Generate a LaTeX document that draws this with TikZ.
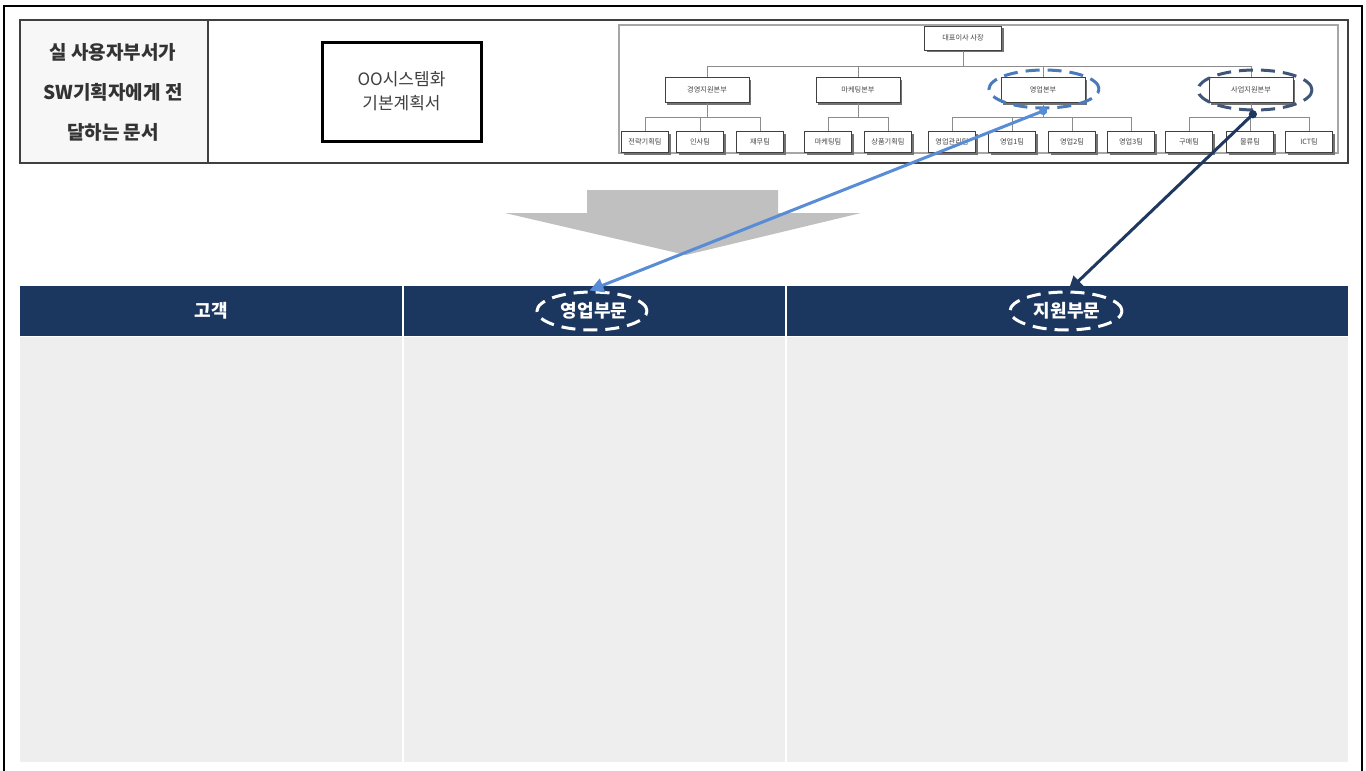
\documentclass[tikz,border=0pt]{standalone}
\usepackage{fontspec}
\setmainfont{Noto Sans CJK KR}
\usetikzlibrary{arrows.meta,shapes.geometric}

\definecolor{navy}{RGB}{27,54,95}
\definecolor{bodygrey}{RGB}{238,238,238}
\definecolor{cellgrey}{RGB}{247,247,247}
\definecolor{framegrey}{RGB}{64,64,64}
\definecolor{bigarrow}{RGB}{192,192,192}
\definecolor{lightblue}{RGB}{88,140,214}
\definecolor{midblue}{RGB}{74,122,188}
\definecolor{darkblue}{RGB}{30,56,96}
\definecolor{orgtext}{RGB}{70,70,70}

\tikzset{
  orgbox/.style={draw=black!75, line width=0.5pt, fill=white, font=\fontsize{3.6}{4}\selectfont, text=orgtext,
    preaction={fill=black!55, transform canvas={xshift=1.1pt, yshift=-1.1pt}}, inner sep=0pt},
  lvltop/.style={orgbox, minimum width=38.5pt, minimum height=12pt},
  lvltwo/.style={orgbox, minimum width=42pt, minimum height=12.5pt},
  lvlthree/.style={orgbox, minimum width=23.5pt, minimum height=10.5pt},
  orgline/.style={draw=black!45, line width=0.4pt},
  ring/.style={ellipse, dashed, line width=1.5pt, dash pattern=on 7pt off 4pt, inner sep=0pt},
  headtext/.style={text=white, font=\fontsize{9}{11}\selectfont\bfseries},
  linkarrow/.style={line width=1.5pt, {Circle[length=4pt]}-{Triangle[length=7pt,width=7pt]}},
}

\begin{document}
\begin{tikzpicture}[x=0.5pt, y=-0.5pt]
\useasboundingbox (0,0) rectangle (1366,771);
\fill[white] (0,0) rectangle (1366,771);

% outer frame
\draw[line width=1pt] (4,6) rectangle (1362,800);

% top row: document description
\fill[cellgrey] (20,20) rectangle (208,163);
\draw[framegrey, line width=0.7pt] (20,20) rectangle (1348,163);
\draw[framegrey, line width=0.7pt] (208,20) -- (208,163);
\node[align=center, font=\fontsize{9.5}{20}\selectfont\bfseries, text=black!80] (desc) at (113,92)
  {실 사용자부서가\\SW기획자에게 전\\달하는 문서};
\node[draw, line width=1.5pt, minimum width=79.5pt, minimum height=49.5pt, align=center,
  font=\fontsize{8.5}{12}\selectfont, text=black!75] (plan) at (401.5,91.5) {OO시스템화\\기본계획서};

% organisation chart
\draw[black!35, line width=0.6pt] (619,25) rectangle (1338,153);

\node[lvltop] (ceo) at (963,38) {대표이사 사장};
\node[lvltwo] (d1) at (707,90) {경영지원본부};
\node[lvltwo] (d2) at (858,90) {마케팅본부};
\node[lvltwo] (d3) at (1043,90) {영업본부};
\node[lvltwo] (d4) at (1251,90) {사업지원본부};
\node[lvlthree] (t1) at (645,142) {전략기획팀};
\node[lvlthree] (t2) at (700,142) {인사팀};
\node[lvlthree] (t3) at (760,142) {재무팀};
\node[lvlthree] (t4) at (828,142) {마케팅팀};
\node[lvlthree] (t5) at (888,142) {상품기획팀};
\node[lvlthree] (t6) at (952,142) {영업관리팀};
\node[lvlthree] (t7) at (1012,142) {영업1팀};
\node[lvlthree] (t8) at (1072,142) {영업2팀};
\node[lvlthree] (t9) at (1131,142) {영업3팀};
\node[lvlthree] (t10) at (1189,142) {구매팀};
\node[lvlthree] (t11) at (1250,142) {물류팀};
\node[lvlthree] (t12) at (1309,142) {ICT팀};

% tree connectors: division bus and team buses
\coordinate (bus) at (0,66);
\coordinate (sub) at (0,117);
\draw[orgline] (ceo.south) -- (ceo |- bus);
\draw[orgline] (d1.north) -- (d1 |- bus) -- (d4 |- bus) -- (d4.north);
\draw[orgline] (d2.north) -- (d2 |- bus);
\draw[orgline] (d3.north) -- (d3 |- bus);
\draw[orgline] (d1.south) -- (d1 |- sub);
\draw[orgline] (t1.north) -- (t1 |- sub) -- (t3 |- sub) -- (t3.north);
\draw[orgline] (t2.north) -- (t2 |- sub);
\draw[orgline] (d2.south) -- (d2 |- sub);
\draw[orgline] (t4.north) -- (t4 |- sub) -- (t5 |- sub) -- (t5.north);
\draw[orgline] (d3.south) -- (d3 |- sub);
\draw[orgline] (t6.north) -- (t6 |- sub) -- (t9 |- sub) -- (t9.north);
\draw[orgline] (t7.north) -- (t7 |- sub);
\draw[orgline] (t8.north) -- (t8 |- sub);
\draw[orgline] (d4.south) -- (d4 |- sub);
\draw[orgline] (t10.north) -- (t10 |- sub) -- (t12 |- sub) -- (t12.north);
\draw[orgline] (t11.north) -- (t11 |- sub);

\node[ring, draw=midblue, minimum width=55pt, minimum height=19pt] (r1) at (1044,89) {};
\node[ring, draw=darkblue!85!white, minimum width=57pt, minimum height=20pt] (r2) at (1255,90) {};

% big grey down arrow
\fill[bigarrow] (587,190) -- (778,190) -- (778,213) -- (861,213) -- (686,255)
  -- (505,213) -- (587,213) -- cycle;

% bottom table
\fill[bodygrey] (20,337) rectangle (1348,762);
\fill[navy] (20,286) rectangle (1348,336);
\draw[white, line width=1pt] (403,286) -- (403,762);
\draw[white, line width=1pt] (786,286) -- (786,762);

\node[headtext] (h1) at (211,311) {고객};
\node[headtext] (h2) at (594,311) {영업부문};
\node[headtext] (h3) at (1067,311) {지원부문};
\node[ring, draw=white, minimum width=55pt, minimum height=19pt] (r3) at (592,311) {};
\node[ring, draw=white, minimum width=56pt, minimum height=19pt] (r4) at (1066,311) {};

% links from the chart to the table headers
\draw[linkarrow, lightblue] (r1.-82) -- (r3.97);
\draw[linkarrow, darkblue] (r2.-88) -- (r4.83);
\end{tikzpicture}
\end{document}
